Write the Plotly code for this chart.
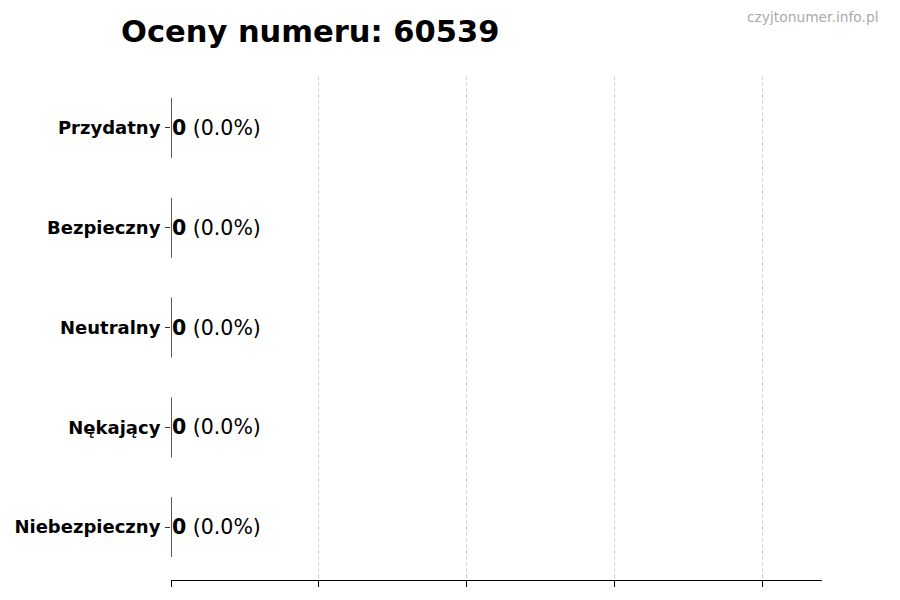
import plotly.graph_objects as go

# --- Data ---
categories = ["Niebezpieczny", "Nękający", "Neutralny", "Bezpieczny", "Przydatny"]
counts = [0, 0, 0, 0, 0]
percents = [0.0, 0.0, 0.0, 0.0, 0.0]
phone_number = "60539"
site = "czyjtonumer.info.pl"

fig = go.Figure()

fig.add_trace(
    go.Bar(
        x=counts,
        y=categories,
        orientation="h",
        width=0.6,
        marker=dict(color="#4c72b0", line=dict(color="#222222", width=1)),
        showlegend=False,
        hoverinfo="skip",
    )
)

# edge lines for empty bars (zero length bars are not drawn by plotly)
edge_x, edge_y = [], []
for i, c in enumerate(counts):
    edge_x += [c, c, None]
    edge_y += [i - 0.3, i + 0.3, None]
fig.add_trace(
    go.Scatter(
        x=edge_x,
        y=edge_y,
        mode="lines",
        line=dict(color="#333333", width=1),
        showlegend=False,
        hoverinfo="skip",
    )
)

# value labels
for i, (c, p) in enumerate(zip(counts, percents)):
    fig.add_annotation(
        x=c,
        y=categories[i],
        text=f"<b>{c}</b> ({p:.1f}%)",
        showarrow=False,
        xanchor="left",
        yanchor="middle",
        xshift=-1,
        font=dict(family="DejaVu Sans", size=20.5, color="black"),
    )

# plot area is 651 x 504 px, so paper coords go past 1 for the header
fig.add_annotation(
    x=-0.08,
    y=1.089,
    xref="paper",
    yref="paper",
    xanchor="left",
    yanchor="middle",
    text=f"<b>Oceny numeru: {phone_number}</b>",
    showarrow=False,
    font=dict(family="DejaVu Sans", size=30.5, color="black"),
)
fig.add_annotation(
    x=1.0906,
    y=1.117,
    xref="paper",
    yref="paper",
    xanchor="right",
    yanchor="middle",
    text=site,
    showarrow=False,
    font=dict(family="DejaVu Sans", size=13.8, color="#aaaaaa"),
)

fig.update_layout(
    width=892,
    height=592,
    margin=dict(l=163, r=78, t=68, b=20, autoexpand=False),
    plot_bgcolor="white",
    paper_bgcolor="white",
    xaxis=dict(
        range=[0, 4.4],
        tickvals=[0, 1, 2, 3, 4],
        showticklabels=False,
        ticks="outside",
        ticklen=6,
        tickcolor="black",
        showgrid=True,
        gridcolor="#d4d4d4",
        griddash="4px,2px",
        gridwidth=1,
        zeroline=False,
        showline=True,
        linecolor="black",
        linewidth=1,
        automargin=False,
        fixedrange=True,
    ),
    yaxis=dict(
        categoryorder="array",
        categoryarray=categories,
        range=[-0.53, 4.52],
        ticks="outside",
        ticklen=5,
        tickcolor="#333333",
        ticklabelstandoff=1,
        tickfont=dict(family="DejaVu Sans", size=18, color="black", weight="bold"),
        showgrid=False,
        zeroline=False,
        showline=False,
        automargin=False,
        fixedrange=True,
    ),
)

fig.write_html("out.html")
